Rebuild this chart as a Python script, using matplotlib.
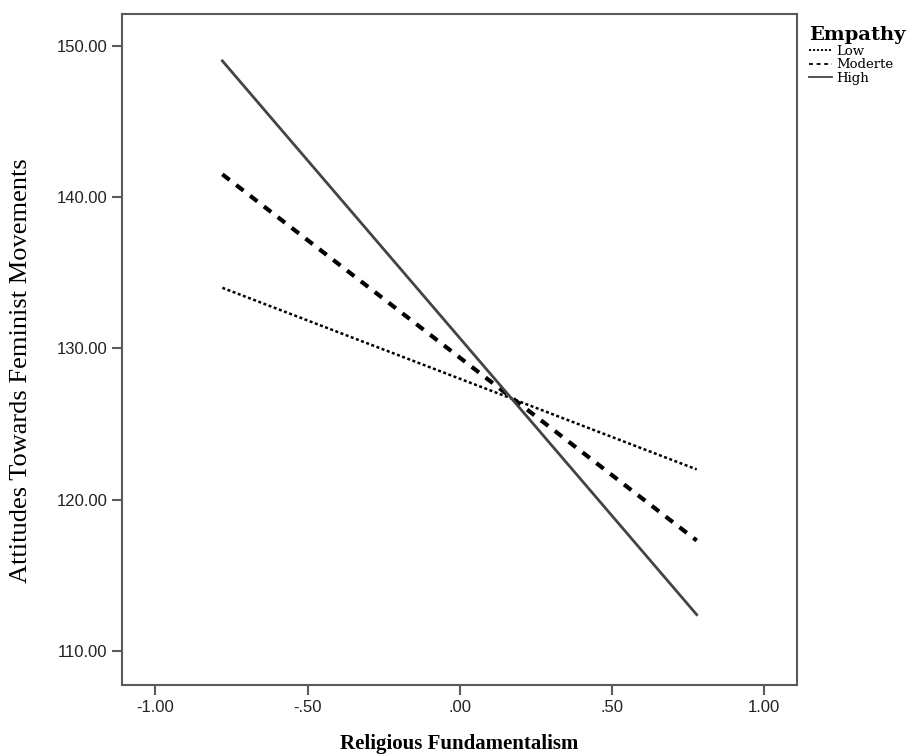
import numpy as np
import matplotlib.pyplot as plt
from matplotlib.ticker import FuncFormatter

# simple slopes: religious fundamentalism at -1 SD / +1 SD
x_vals = [-0.78, 0.78]
low = [134.0, 122.0]
moderate = [141.5, 117.3]
high = [149.0, 112.4]
series_labels = ['Low', 'Moderte', 'High']

x_ticks = [-1.0, -0.5, 0.0, 0.5, 1.0]
y_ticks = [110, 120, 130, 140, 150]

SERIF = ['Liberation Serif', 'DejaVu Serif']
WIDE_SERIF = ['DejaVu Serif']
SANS = ['Liberation Sans', 'DejaVu Sans']
FRAME = '#5a5a5a'


def spss_fmt(v, pos):
    s = f'{v:.2f}'
    return s.replace('0.', '.', 1) if s.startswith(('0.', '-0.')) else s


fig = plt.figure(figsize=(9.21, 7.55), dpi=100)
ax = fig.add_axes([0.1325, 0.0927, 0.7329, 0.8888])

l1, = ax.plot(x_vals, low, color='black', lw=1.8, linestyle=(0, (1.2, 1.0)))
l2, = ax.plot(x_vals, moderate, color='black', lw=3.0, linestyle=(0, (2.2, 2.0)))
l3, = ax.plot(x_vals, high, color='#444444', lw=2.0, linestyle='-')

ax.set_xlim(-1.11, 1.11)
ax.set_ylim(107.75, 152.1)
ax.set_xticks(x_ticks)
ax.set_yticks(y_ticks)
ax.xaxis.set_major_formatter(FuncFormatter(spss_fmt))
ax.yaxis.set_major_formatter(FuncFormatter(spss_fmt))
ax.tick_params(direction='out', length=7, width=1.5, color=FRAME,
               labelsize=12, labelcolor='#222222')
for lab in ax.get_xticklabels() + ax.get_yticklabels():
    lab.set_family(SANS)
for sp in ax.spines.values():
    sp.set_color(FRAME)
    sp.set_linewidth(1.5)

ax.set_xlabel('Religious Fundamentalism', family=SERIF, fontsize=15,
              fontweight='bold', labelpad=14)
ax.set_ylabel('Attitudes Towards Feminist Movements', family=SERIF, fontsize=19)
ax.yaxis.set_label_coords(-0.134, 0.468)

leg = fig.legend([l1, l2, l3], series_labels, title='Empathy', loc='upper left',
                 bbox_to_anchor=(0.868, 0.978), frameon=False,
                 prop={'family': WIDE_SERIF, 'size': 9.5}, handlelength=1.8,
                 handletextpad=0.3, labelspacing=0.05, borderpad=0.2)
leg.get_title().set_fontfamily(WIDE_SERIF)
leg.get_title().set_fontweight('bold')
leg.get_title().set_fontsize(14)
leg._legend_box.align = 'left'
for h in leg.legend_handles:
    h.set_linewidth(1.3)

fig.savefig('out.png', dpi=100)
